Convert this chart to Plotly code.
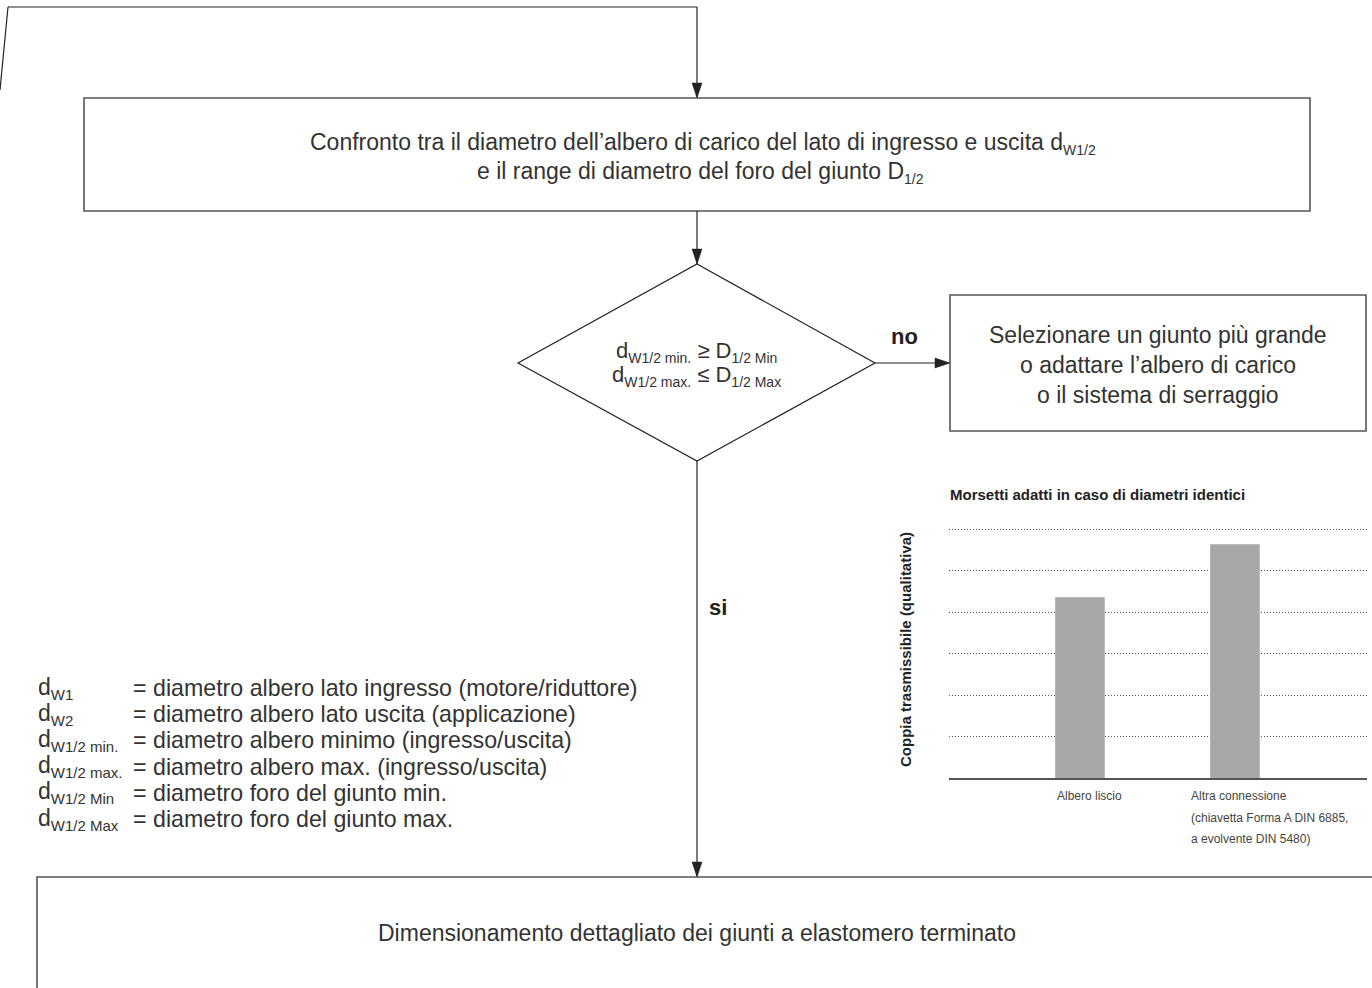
import plotly.graph_objects as go

# ---------------- data ----------------
categories = ["Albero liscio", "Altra connessione"]
category_label_lines = [["Albero liscio"],
                        ["Altra connessione", "(chiavetta Forma A DIN 6885,", "a evolvente DIN 5480)"]]
torque_values = [4.36, 5.64]
grid_ticks = [1, 2, 3, 4, 5, 6]

chart_title = "Morsetti adatti in caso di diametri identici"
y_title = "Coppia trasmissibile (qualitativa)"


def sub(s, size=14):
    return f"<sub><span style='font-size:{size}px'>{s}</span></sub>"


box_top_lines = ["Confronto tra il diametro dell’albero di carico del lato di ingresso e uscita d" + sub("W1/2"),
                 "e il range di diametro del foro del giunto D" + sub("1/2")]
diamond_lines = ["d" + sub("W1/2 min.", 14) + " ≥ D" + sub("1/2 Min", 14),
                 "d" + sub("W1/2 max.", 14) + " ≤ D" + sub("1/2 Max", 14)]
box_right_lines = ["Selezionare un giunto più grande",
                   "o adattare l’albero di carico",
                   "o il sistema di serraggio"]
box_bottom_text = "Dimensionamento dettagliato dei giunti a elastomero terminato"
legend_symbols = ["d" + sub("W1", 15), "d" + sub("W2", 15), "d" + sub("W1/2 min.", 15),
                  "d" + sub("W1/2 max.", 15), "d" + sub("W1/2 Min", 15), "d" + sub("W1/2 Max", 15)]
legend_texts = ["= diametro albero lato ingresso (motore/riduttore)",
                "= diametro albero lato uscita (applicazione)",
                "= diametro albero minimo (ingresso/uscita)",
                "= diametro albero max. (ingresso/uscita)",
                "= diametro foro del giunto min.",
                "= diametro foro del giunto max."]

W, H = 1372, 988
TXT = "#333333"
LINE = "#222222"
BOX = "#555555"
FONT = "Liberation Sans"

fig = go.Figure()

# inset bar chart
fig.add_trace(go.Bar(
    x=categories, y=torque_values, width=0.32,
    marker=dict(color="#a8a8a7", line=dict(width=0)),
    xaxis="x2", yaxis="y2", hoverinfo="skip", showlegend=False,
))

shapes = []


def line(x0, y0, x1, y1, color=LINE, w=1.2):
    shapes.append(dict(type="line", xref="x", yref="y", x0=x0, y0=y0, x1=x1, y1=y1,
                       line=dict(color=color, width=w)))


def rect(x0, y0, x1, y1):
    shapes.append(dict(type="rect", xref="x", yref="y", x0=x0, y0=y0, x1=x1, y1=y1,
                       line=dict(color=BOX, width=1.6)))


def arrow_down(x, y):
    shapes.append(dict(type="path", xref="x", yref="y",
                       path=f"M {x-5},{y-15} L {x+5},{y-15} L {x},{y} Z",
                       fillcolor=LINE, line=dict(color=LINE, width=0.5)))


def arrow_right(x, y):
    shapes.append(dict(type="path", xref="x", yref="y",
                       path=f"M {x-15},{y-5} L {x-15},{y+5} L {x},{y} Z",
                       fillcolor=LINE, line=dict(color=LINE, width=0.5)))


# top loop line
line(0, 90, 8, 7)
line(8, 7, 697, 7)
line(697, 7, 697, 98)
arrow_down(697, 98)
# top box
rect(84, 98, 1310, 211)
line(697, 211, 697, 264)
arrow_down(697, 264)
# diamond
shapes.append(dict(type="path", xref="x", yref="y",
                   path="M 697,264 L 875,363 L 697,461 L 518,363 Z",
                   line=dict(color=LINE, width=1.2)))
# no branch
line(875, 363, 950, 363)
arrow_right(950, 363)
rect(950, 295, 1366, 431)
# si branch
line(697, 461, 697, 877)
arrow_down(697, 877)
# bottom box (open to the right/bottom)
shapes.append(dict(type="path", xref="x", yref="y",
                   path="M 37,992 L 37,877 L 1376,877",
                   line=dict(color=BOX, width=1.6)))

ann = []


def text(x, y, s, size=17, bold=False, xanchor="center", color=TXT, angle=0):
    ann.append(dict(x=x, y=y, xref="x", yref="y", text=s, showarrow=False,
                    xanchor=xanchor, yanchor="middle", textangle=angle,
                    font=dict(family=FONT, size=size, color=color,
                              weight="bold" if bold else "normal")))


text(703, 143, box_top_lines[0], size=23)
text(700, 172, box_top_lines[1], size=23)
text(696, 352, diamond_lines[0], size=22)
text(696, 376, diamond_lines[1], size=22)
text(904, 336, "no", size=22, bold=True, color="#222")
text(1158, 335, box_right_lines[0], size=23)
text(1158, 365, box_right_lines[1], size=23)
text(1158, 395, box_right_lines[2], size=23)
text(718, 607, "si", size=22, bold=True, color="#222")
text(697, 933, box_bottom_text, size=23)

for i, (sym, t) in enumerate(zip(legend_symbols, legend_texts)):
    yy = 688 + i * 26.2
    text(36, yy, sym, size=23, xanchor="left")
    text(131, yy, t, size=23.2, xanchor="left")

# inset chart texts
text(948, 494, chart_title, size=15, bold=True, xanchor="left", color="#222")
text(905, 650, y_title, size=15, bold=True, color="#222", angle=-90)
label_shift = [-25, -46]
for ci, lines in enumerate(category_label_lines):
    for li, s in enumerate(lines):
        ann.append(dict(x=categories[ci], y=0, xref="x2", yref="y2", text=s,
                        showarrow=False, xanchor="left", yanchor="middle",
                        xshift=label_shift[ci], yshift=-18 - li * 21.5,
                        font=dict(family=FONT, size=12, color="#444")))

x0p, x1p = 949 / W, 1367 / W
y0p, y1p = 1 - 778 / H, 1 - 521 / H

fig.update_layout(
    width=W, height=H, margin=dict(l=0, r=0, t=0, b=0),
    paper_bgcolor="white", plot_bgcolor="rgba(0,0,0,0)",
    showlegend=False,
    xaxis=dict(range=[0, W], domain=[0, 1], visible=False, fixedrange=True),
    yaxis=dict(range=[H, 0], domain=[0, 1], visible=False, fixedrange=True),
    xaxis2=dict(domain=[x0p, x1p], anchor="y2", type="category",
                range=[-0.845, 1.852], showticklabels=False, ticks="",
                showgrid=False, showline=True, linecolor="#555", linewidth=2,
                zeroline=False, fixedrange=True),
    yaxis2=dict(domain=[y0p, y1p], anchor="x2", range=[0, 6.2],
                tickvals=grid_ticks, showticklabels=False, ticks="",
                showgrid=True, gridcolor="#555", gridwidth=1, griddash="1px,2px",
                zeroline=False, showline=False, fixedrange=True),
    shapes=shapes, annotations=ann,
)

fig.write_html("out.html", config={"displayModeBar": False},
               post_script="document.body.style.margin='0';")
